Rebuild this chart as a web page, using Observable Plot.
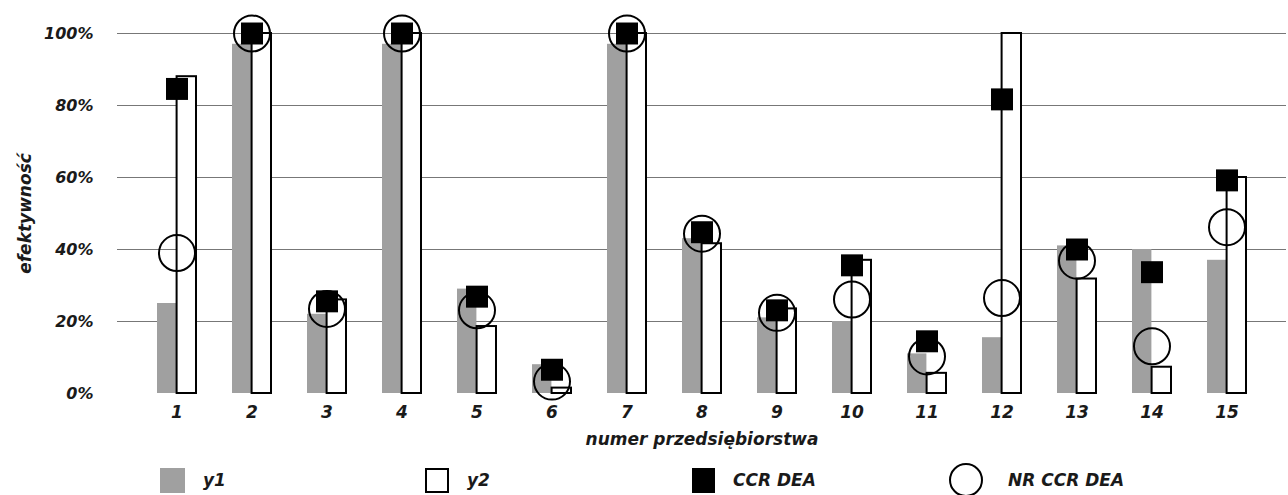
<!DOCTYPE html>
<html>
<head>
<meta charset="utf-8">
<script src="https://cdn.jsdelivr.net/npm/d3@7"></script>
<script src="https://cdn.jsdelivr.net/npm/@observablehq/plot@0.6"></script>
<style>
  body { margin: 0; background: #fff; }
  #chart {
    position: relative; width: 1288px; height: 495px; overflow: hidden;
    font-family: "DejaVu Sans", sans-serif; font-style: italic; font-weight: bold;
    color: #1a1a1a; background: #fff;
  }
  #legend { position: absolute; left: 0; top: 460px; width: 1288px; height: 40px; }
  .item { position: absolute; top: 0; height: 40px; display: flex; align-items: center; font-size: 17px; }
  .sw { box-sizing: border-box; margin-right: 18px; }
</style>
</head>
<body>
<div id="chart"></div>
<script>
// Efficiency of 15 enterprises (numer przedsiębiorstwa), shares of 1
const firms = [1, 2, 3, 4, 5, 6, 7, 8, 9, 10, 11, 12, 13, 14, 15];
const y1    = [0.25, 0.97, 0.22, 0.97, 0.29, 0.08, 0.97, 0.43, 0.21, 0.20, 0.11, 0.155, 0.41, 0.40, 0.37];
const y2    = [0.88, 1.00, 0.26, 1.00, 0.186, 0.015, 1.00, 0.416, 0.235, 0.37, 0.056, 1.00, 0.318, 0.073, 0.60];
const ccr   = [0.846, 1.00, 0.256, 1.00, 0.269, 0.066, 1.00, 0.448, 0.231, 0.356, 0.145, 0.817, 0.40, 0.337, 0.592];
const nrCcr = [0.39, 1.00, 0.235, 1.00, 0.231, 0.033, 1.00, 0.444, 0.224, 0.261, 0.103, 0.265, 0.369, 0.131, 0.462];
const yTicks = [0, 0.2, 0.4, 0.6, 0.8, 1.0];
const seriesNames = ["y1", "y2", "CCR DEA", "NR CCR DEA"];
const yTitle = "efektywność";
const xTitle = "numer przedsiębiorstwa";

const rows = firms.map((f, i) => ({firm: f, y1: y1[i], y2: y2[i], ccr: ccr[i], nr: nrCcr[i]}));

const half = 19.6; // each bar takes half of the firm's band

const chart = Plot.plot({
  width: 1288,
  height: 455,
  marginLeft: 117,
  marginRight: 2,
  marginTop: 33,
  marginBottom: 62,
  style: {
    fontFamily: "DejaVu Sans, sans-serif",
    fontStyle: "italic",
    fontWeight: "bold",
    fontSize: "16px",
    color: "#1a1a1a",
    background: "transparent",
    overflow: "visible"
  },
  x: {type: "band", domain: firms, padding: 0.48, label: null},
  y: {domain: [0, 1], label: null},
  marks: [
    Plot.ruleY(yTicks.filter(d => d > 0), {stroke: "#777", strokeWidth: 1}),
    Plot.axisY(yTicks, {tickSize: 0, tickPadding: 24, tickFormat: d => Math.round(d * 100) + "%", label: null, fontSize: 16}),
    Plot.axisX({tickSize: 0, tickPadding: 12, label: null, fontSize: 17}),
    Plot.barY(rows, {x: "firm", y: "y1", fill: "#a0a0a0", insetRight: half}),
    Plot.barY(rows, {x: "firm", y: "y2", fill: "#fff", stroke: "#000", strokeWidth: 2, insetLeft: half}),
    Plot.dot(rows, {x: "firm", y: "ccr", symbol: "square", r: 12.4, fill: "#000"}),
    Plot.dot(rows, {x: "firm", y: "nr", r: 18, stroke: "#000", strokeWidth: 2, fill: "none"}),
    Plot.text([yTitle], {frameAnchor: "left", textAnchor: "middle", rotate: -90, dx: -92, fontSize: 17}),
    Plot.text([xTitle], {frameAnchor: "bottom", dy: 51, fontSize: 17})
  ]
});

const root = document.getElementById("chart");
root.appendChild(chart);

// Legend below the plot
const legend = document.createElement("div");
legend.id = "legend";
const swatchStyles = [
  {left: 160, css: "width:25px;height:25px;background:#a0a0a0;"},
  {left: 425, css: "width:24px;height:25px;background:#fff;border:2px solid #000;"},
  {left: 692, css: "width:23px;height:25px;background:#000;"},
  {left: 949, css: "width:34px;height:34px;background:#fff;border:2px solid #000;border-radius:50%;margin-right:25px;"}
];
seriesNames.forEach((name, i) => {
  const item = document.createElement("div");
  item.className = "item";
  item.style.left = swatchStyles[i].left + "px";
  const sw = document.createElement("div");
  sw.className = "sw";
  sw.style.cssText += swatchStyles[i].css;
  const label = document.createElement("span");
  label.textContent = name;
  item.appendChild(sw);
  item.appendChild(label);
  legend.appendChild(item);
});
root.appendChild(legend);
</script>
</body>
</html>
